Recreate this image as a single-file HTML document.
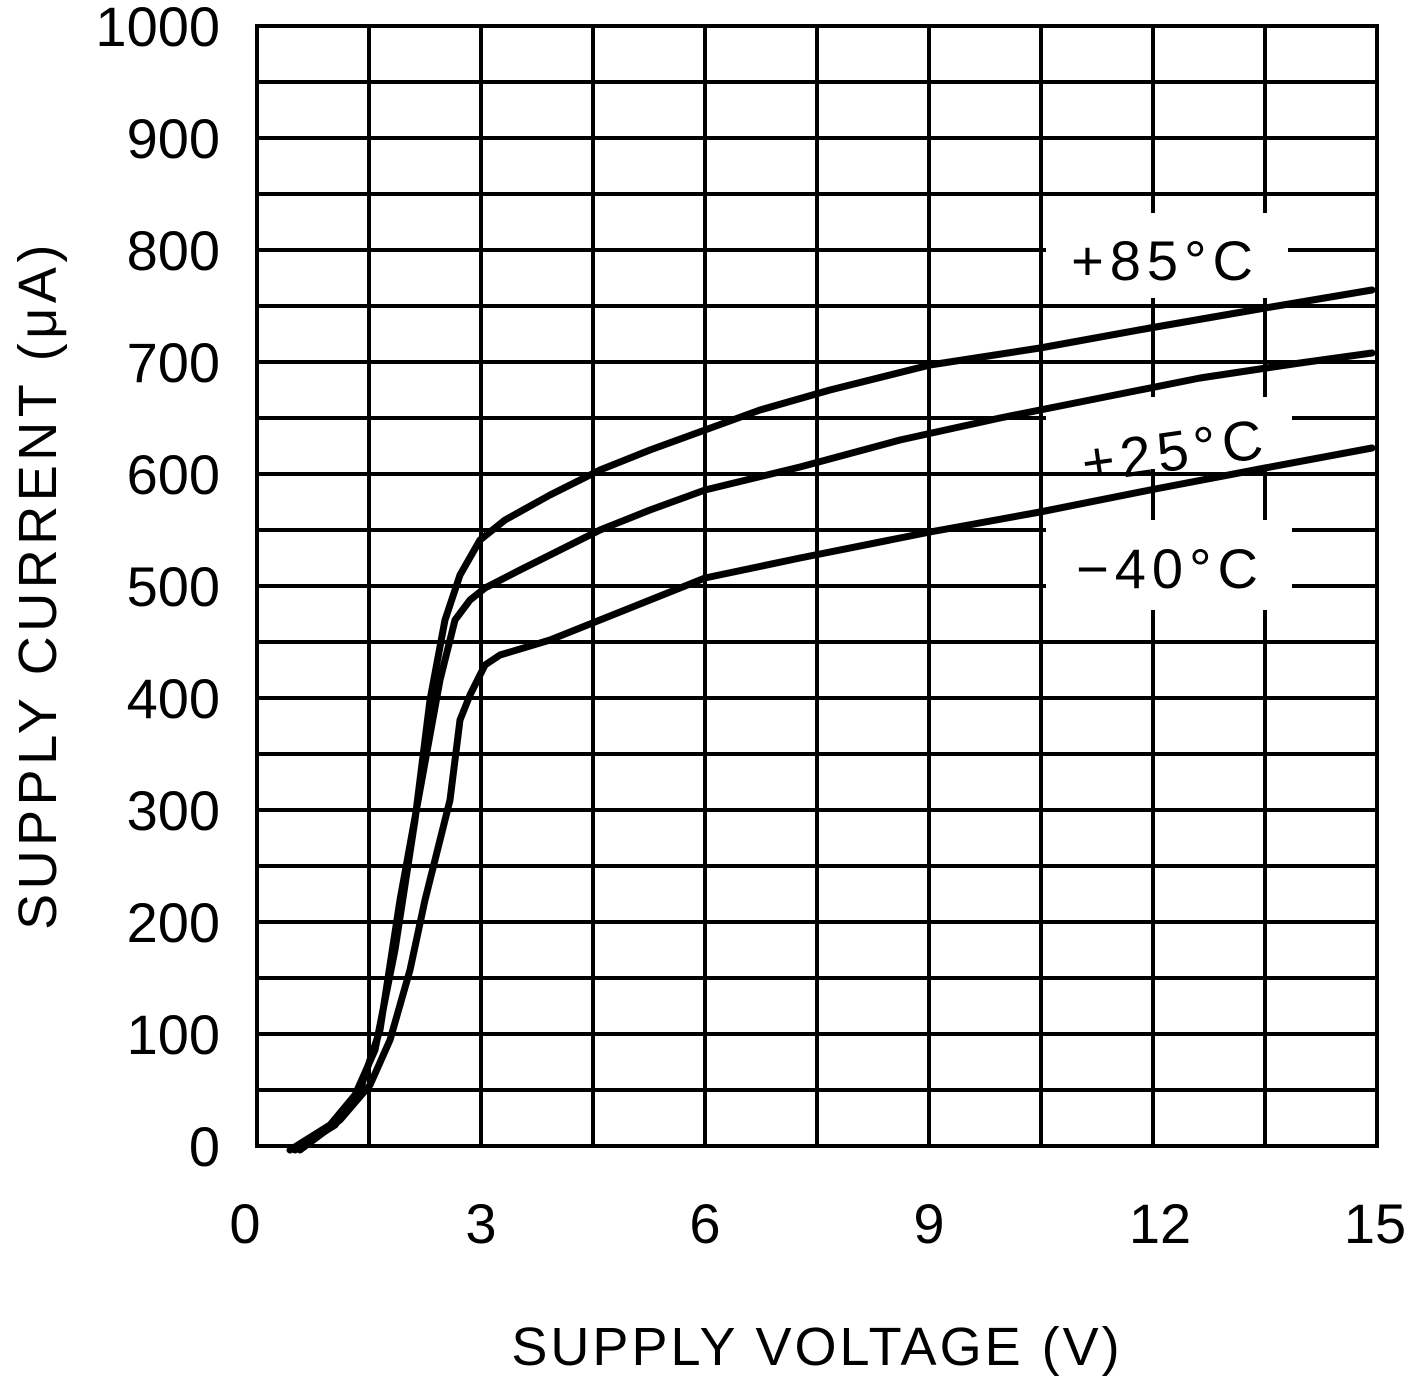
<!DOCTYPE html>
<html><head><style>
html,body{margin:0;padding:0;background:#fff;}
svg{display:block;}
text{font-family:"Liberation Sans",sans-serif;fill:#000;}
</style></head><body>
<svg width="1404" height="1376" viewBox="0 0 1404 1376" xmlns="http://www.w3.org/2000/svg">
<g stroke="#000" stroke-width="4" fill="none">
<rect x="257" y="26" width="1120" height="1120"/>
<path d="M369 26V1146M481 26V1146M593 26V1146M705 26V1146M817 26V1146M929 26V1146M1041 26V1146M1153 26V1146M1265 26V1146"/>
<path d="M257 82H1377M257 138H1377M257 194H1377M257 250H1377M257 306H1377M257 362H1377M257 418H1377M257 474H1377M257 530H1377M257 586H1377M257 642H1377M257 698H1377M257 754H1377M257 810H1377M257 866H1377M257 922H1377M257 978H1377M257 1034H1377M257 1090H1377"/>
</g>
<g fill="#fff">
<rect x="1046" y="213" width="242" height="85"/>
<rect x="1046" y="397" width="246" height="72"/>
<rect x="1046" y="520" width="246" height="90"/>
</g>
<g stroke="#000" stroke-width="7" fill="none" stroke-linejoin="round" stroke-linecap="round">
<polyline points="290,1150 330,1125 355,1095 375,1050 395,950 415,820 430,700 445,620 460,575 480,540 505,520 550,495 600,470 650,450 705,430 760,410 830,390 930,365 1040,348 1150,328 1265,308 1372,290"/>
<polyline points="295,1150 335,1125 360,1090 380,1030 400,900 420,790 440,680 455,620 470,600 485,588 520,570 560,550 600,530 650,510 705,490 800,467 900,440 1000,418 1100,398 1200,378 1300,363 1372,353"/>
<polyline points="300,1150 340,1120 370,1085 390,1040 410,970 425,900 440,840 450,800 460,720 470,695 485,665 500,655 550,640 600,620 650,600 705,578 800,558 930,532 1040,512 1150,490 1265,468 1372,448"/>
</g>
<g font-size="56" text-anchor="middle" letter-spacing="6">
<text x="1165" y="280">+85°C</text>
<text x="1175" y="470" transform="rotate(-8 1175 450)">+25°C</text>
<text x="1170" y="588">−40°C</text>
</g>
<g font-size="56" text-anchor="end">
<text x="220" y="46">1000</text>
<text x="220" y="158">900</text>
<text x="220" y="270">800</text>
<text x="220" y="382">700</text>
<text x="220" y="494">600</text>
<text x="220" y="606">500</text>
<text x="220" y="718">400</text>
<text x="220" y="830">300</text>
<text x="220" y="942">200</text>
<text x="220" y="1054">100</text>
<text x="220" y="1166">0</text>
</g>
<g font-size="56" text-anchor="middle">
<text x="245" y="1243">0</text>
<text x="481" y="1243">3</text>
<text x="705" y="1243">6</text>
<text x="929" y="1243">9</text>
<text x="1160" y="1243">12</text>
<text x="1375" y="1243">15</text>
</g>
<text x="817" y="1365" font-size="54" text-anchor="middle" letter-spacing="3">SUPPLY VOLTAGE (V)</text>
<text transform="translate(56 585) rotate(-90)" font-size="54" text-anchor="middle" letter-spacing="4.5">SUPPLY CURRENT (μA)</text>
</svg>
</body></html>
